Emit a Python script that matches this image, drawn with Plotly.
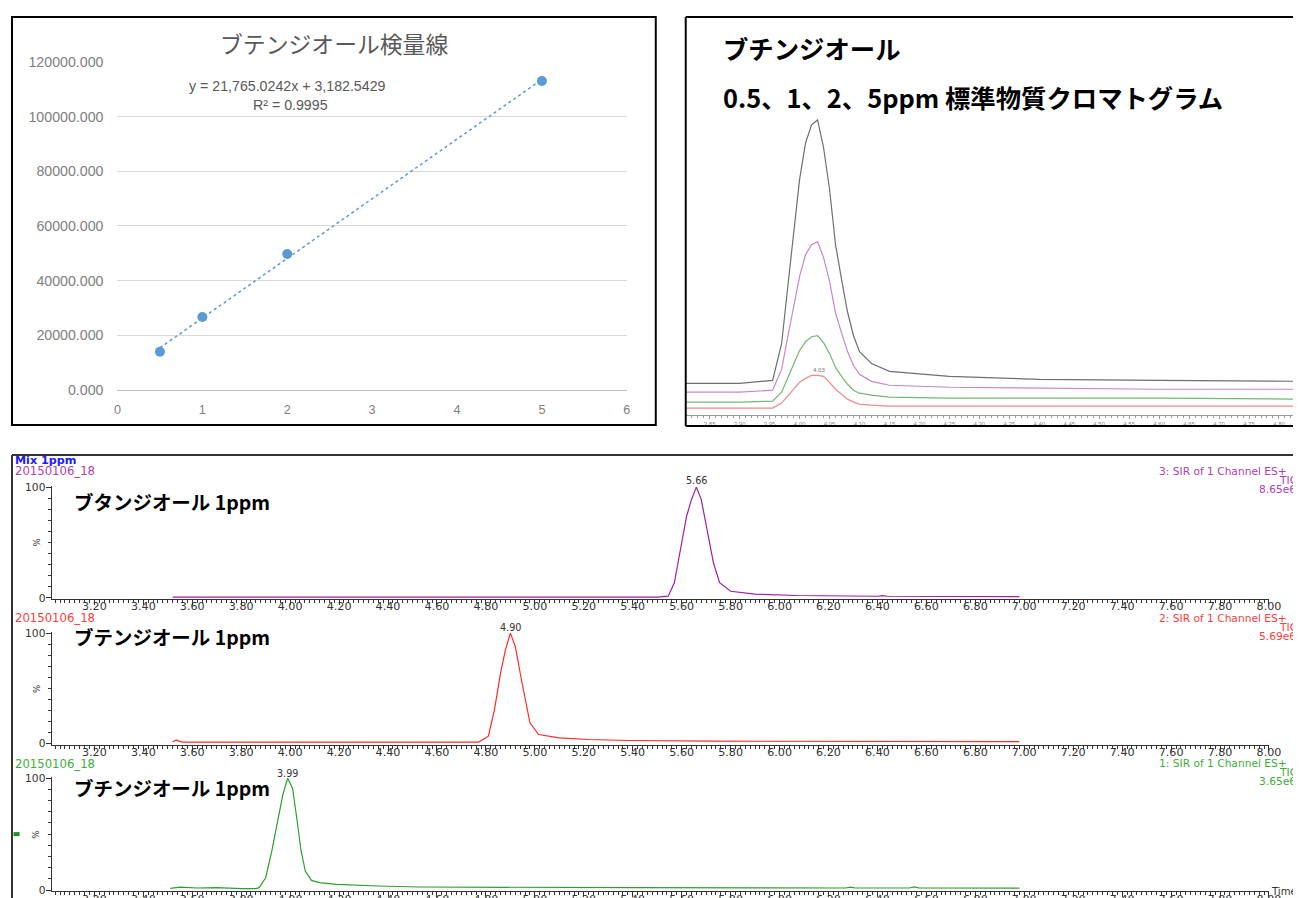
import numpy as np
import plotly.graph_objects as go

# Measured mapping between page pixels and the photographed picture:
#   picture = S * page + B   (page includes the 8px body margin)
SX, BX = 0.989, 3.5
SY, BY = 0.982, 8.3
OFF = 8
W, H = 1306, 905
FS = 2 / (SX + SY)  # font scale so text appears at the intended size


def px_to_fig_x(t):
    return ((t - BX) / SX - OFF) / W


def px_to_fig_y(t):
    return 1 - ((t - BY) / SY - OFF) / H


def fx(t):
    return min(1.0, max(0.0, px_to_fig_x(t)))


def fy(t):
    return min(1.0, max(0.0, px_to_fig_y(t)))


def fy_line(t):
    # keep frame lines fully inside the figure
    return min(1 - 1.0 / H, max(1.0 / H, px_to_fig_y(t)))


# ---------------- calibration curve data ----------------
cal_title = "ブテンジオール検量線"
cal_conc = [0.5, 1, 2, 5]
cal_area = [14000, 26700, 49700, 113000]
cal_eq_text = "y = 21,765.0242x + 3,182.5429"
cal_r2_text = "R² = 0.9995"
cal_xticks = [0, 1, 2, 3, 4, 5, 6]
cal_yticks = [0, 20000, 40000, 60000, 80000, 100000, 120000]

# ---------------- overlaid standards (0.5, 1, 2, 5 ppm) ----------------
ov_title1 = "ブチンジオール"
ov_title2 = "0.5、1、2、5ppm 標準物質クロマトグラム"
ov_time = [3.81, 3.90, 3.955, 3.97, 3.98, 3.99, 4.00, 4.01, 4.02, 4.03, 4.04, 4.05,
           4.06, 4.07, 4.08, 4.09, 4.10, 4.12, 4.15, 4.25, 4.40, 4.60, 4.835]
ov_5ppm = [32, 32, 35, 72, 128, 185, 238, 275, 293, 298, 270, 228,
           172, 137, 104, 80, 64, 52, 44, 39, 36, 35, 34]
ov_2ppm = [23, 23, 25, 46, 78, 110, 140, 162, 172, 175, 159, 135,
           103, 83, 64, 50, 41, 34, 30, 28, 27, 26, 26]
ov_1ppm = [13, 13, 14, 23, 37, 52, 65, 74, 79, 80, 73, 62,
           48, 39, 31, 25, 22, 20, 18, 17, 17, 17, 16]
ov_05ppm = [7, 7, 7, 12, 19, 26, 33, 37, 40, 40, 39, 33,
            26, 21, 16, 13, 11, 10, 9, 9, 9, 9, 9]
ov_peak_label = "4.03"

# ---------------- MassLynx chromatograms (Mix 1ppm) ----------------
ml_sample = "Mix 1ppm"
ml_file = "20150106_18"
a_name = "ブタンジオール 1ppm"
a_time = [3.52, 4.50, 5.50, 5.545, 5.57, 5.595, 5.62, 5.64, 5.66, 5.68, 5.705, 5.73,
          5.755, 5.80, 5.90, 6.07, 6.40, 6.42, 6.44, 6.98]
a_int = [0.7, 0.7, 0.7, 1.6, 13.7, 43.7, 73.7, 88.7, 100, 88.7, 58.6, 31.5,
         13.7, 6.0, 3.5, 2.2, 1.5, 2.0, 1.5, 1.2]
a_info = ["3: SIR of 1 Channel ES+", "TIC", "8.65e6"]
a_peak = "5.66"

b_name = "ブテンジオール 1ppm"
b_time = [3.52, 3.535, 3.56, 4.20, 4.77, 4.81, 4.835, 4.86, 4.88, 4.90, 4.92, 4.945,
          4.965, 4.98, 5.015, 5.10, 5.22, 5.39, 5.72, 6.98]
b_int = [1.5, 3.0, 1.2, 1.2, 1.3, 6.6, 30.7, 63.9, 85, 100, 88, 58,
         36.7, 18.7, 8.1, 5.1, 3.6, 2.7, 2.1, 1.6]
b_info = ["2: SIR of 1 Channel ES+", "TIC", "5.69e6"]
b_peak = "4.90"

c_name = "ブチンジオール 1ppm"
c_time = [3.51, 3.55, 3.62, 3.70, 3.80, 3.86, 3.873, 3.90, 3.925, 3.95, 3.97, 3.99,
          4.01, 4.027, 4.045, 4.062, 4.087, 4.12, 4.19, 4.36, 4.53, 5.40, 6.27, 6.29,
          6.31, 6.53, 6.55, 6.57, 6.98]
c_int = [1.5, 2.5, 1.8, 2.2, 1.3, 1.3, 2.1, 11, 34.7, 64.4, 85, 100,
         91, 64.4, 34.7, 17, 8.6, 6.6, 5.0, 3.6, 2.7, 2.1, 1.8, 2.6,
         1.8, 1.8, 2.8, 1.8, 1.7]
c_info = ["1: SIR of 1 Channel ES+", "TIC", "3.65e6"]
c_peak = "3.99"

ml_ticks_major = 0.2
ml_ticks_minor = 0.02

# ======================================================================
fig = go.Figure()

# ---- calibration ----
slope, icpt = np.polyfit(cal_conc, cal_area, 1)
tx = np.array([min(cal_conc), max(cal_conc)])
fig.add_trace(go.Scatter(x=tx, y=slope * tx + icpt, mode="lines",
                         line=dict(color="#5b9bd5", width=1.5, dash="dot"),
                         xaxis="x", yaxis="y", showlegend=False))
fig.add_trace(go.Scatter(x=cal_conc, y=cal_area, mode="markers",
                         marker=dict(color="#5b9bd5", size=10),
                         xaxis="x", yaxis="y", showlegend=False))

# ---- overlay ----
ov_series = [(ov_5ppm, "#6f6f6f"), (ov_2ppm, "#c586cc"),
             (ov_1ppm, "#73b873"), (ov_05ppm, "#f08a8a")]
for vals, col in ov_series:
    fig.add_trace(go.Scatter(x=ov_time, y=vals, mode="lines",
                             line=dict(color=col, width=1.2),
                             xaxis="x2", yaxis="y2", showlegend=False))

# ---- MassLynx ----
ml_sets = [
    (a_time, a_int, "#a01ea0", "x3", "y3"),
    (b_time, b_int, "#ff2a2a", "x4", "y4"),
    (c_time, c_int, "#2e9e2e", "x5", "y5"),
]
for t, v, col, xa, ya in ml_sets:
    fig.add_trace(go.Scatter(x=t, y=v, mode="lines",
                             line=dict(color=col, width=1.2),
                             xaxis=xa, yaxis=ya, showlegend=False))

ml_font = "DejaVu Sans"
tickfont_ml = dict(family=ml_font, size=11 * FS, color="#333333")


def ml_x(anchor):
    return dict(domain=[fx(51), fx(1270)], range=[3.025, 8.0], anchor=anchor,
                showline=True, linecolor="#333", linewidth=1,
                ticks="outside", ticklen=5, tickwidth=1, tickcolor="#333",
                tick0=3.2, dtick=ml_ticks_major, tickformat=".2f",
                minor=dict(ticks="outside", ticklen=3, tickcolor="#333",
                           tick0=3.2, dtick=ml_ticks_minor),
                ticklabelstandoff=-8,
                showgrid=False, zeroline=False, tickfont=tickfont_ml)


def ml_y(anchor, bottom_px, top_px):
    return dict(domain=[fy(bottom_px), fy(top_px)], range=[-1, 101], anchor=anchor,
                showline=True, linecolor="#333", linewidth=1,
                ticks="outside", ticklen=5, tickcolor="#333",
                tickmode="array", tickvals=[0, 100], ticktext=["0", "100"],
                minor=dict(ticks="outside", ticklen=3, tickcolor="#333",
                           tickmode="linear", tick0=0, dtick=10),
                ticklabelstandoff=-2,
                showgrid=False, zeroline=False,
                tickfont=dict(family=ml_font, size=10.5 * FS, color="#333"))


grey_font = dict(family="Liberation Sans", size=12.5 * FS, color="#808080")
grey_font_y = dict(family="Liberation Sans", size=14 * FS, color="#808080")

# overlay time axis: 600 picture px per minute, 4.00 min at x = 800
ov_left_px, ov_right_px = 686, 1301
ov_range = [4.00 + (ov_left_px - 800) / 600, 4.00 + (ov_right_px - 800) / 600]

fig.update_layout(
    width=W, height=H, autosize=False,
    margin=dict(l=0, r=0, t=0, b=0),
    paper_bgcolor="white", plot_bgcolor="rgba(0,0,0,0)",
    showlegend=False,
    xaxis=dict(domain=[fx(117), fx(627)], range=[0, 6], anchor="y",
               tickvals=cal_xticks, showgrid=False, zeroline=False,
               showline=True, linecolor="#bfbfbf", linewidth=1,
               ticks="", tickfont=grey_font, ticklabelstandoff=8),
    yaxis=dict(domain=[fy(390), fy(62)], range=[0, 120000], anchor="x",
               tickvals=cal_yticks, tickformat=".3f", showgrid=True,
               gridcolor="#d9d9d9", gridwidth=1, zeroline=False,
               showline=False, ticks="", tickfont=grey_font_y,
               ticklabelstandoff=13),
    xaxis2=dict(domain=[fx(ov_left_px), fx(ov_right_px)], range=ov_range, anchor="y2",
                showline=True, linecolor="#9a9a9a", linewidth=1,
                ticks="outside", ticklen=3, tickcolor="#9a9a9a",
                tick0=3.8, dtick=0.05, tickformat=".2f",
                minor=dict(ticks="outside", ticklen=2, tickcolor="#9a9a9a",
                           tick0=3.8, dtick=0.01),
                showgrid=False, zeroline=False,
                tickfont=dict(family="Liberation Sans", size=6, color="#8a8a8a")),
    yaxis2=dict(domain=[fy(415), fy(12)], range=[0, 403], anchor="x2",
                visible=False),
    xaxis3=ml_x("y3"), yaxis3=ml_y("x3", 599, 486),
    xaxis4=ml_x("y4"), yaxis4=ml_y("x4", 744.5, 632),
    xaxis5=ml_x("y5"), yaxis5=ml_y("x5", 891, 777),
)

ann = []


def add_text(text, x, y, size, color="black", family="Noto Sans CJK JP",
             xanchor="left", yanchor="middle", angle=0):
    ann.append(dict(text=text, x=px_to_fig_x(x), y=px_to_fig_y(y),
                    xref="paper", yref="paper",
                    showarrow=False, xanchor=xanchor, yanchor=yanchor,
                    textangle=angle,
                    font=dict(family=family, size=size * FS, color=color)))


# calibration texts
add_text(cal_title, 334, 44, 22.5, "#595959", xanchor="center")
add_text(cal_eq_text, 287, 86, 14, "#595959", family="Liberation Sans", xanchor="center")
add_text(cal_r2_text, 290, 105, 14, "#595959", family="Liberation Sans", xanchor="center")

# overlay texts
add_text("<b>" + ov_title1 + "</b>", 721, 48, 25)
add_text("<b>" + ov_title2 + "</b>", 721, 97, 25)
add_text(ov_peak_label, 819, 370, 6, "#777777", family="Liberation Sans", xanchor="center")

# MassLynx texts
add_text("<b>" + ml_sample + "</b>", 12, 461, 11, "#1a1aff", family=ml_font)
ml_labels = [
    (a_name, a_info, a_peak, "#b040b0", 471.5, 501.7, 5.66, 481, 0),
    (b_name, b_info, b_peak, "#ff3c3c", 618, 636.7, 4.90, 627, 146.5),
    (c_name, c_info, c_peak, "#3cae3c", 763.5, 787.7, 3.99, 773, 292),
]
for name, info, pk, col, fy_px, name_px, pkt, pk_px, off in ml_labels:
    add_text(ml_file, 12, fy_px, 11.5, col, family=ml_font)
    add_text("<b>" + name + "</b>", 71, name_px, 19.2)
    add_text(info[0], 1158, fy_px, 10.5, col, family=ml_font)
    add_text(info[1], 1278, fy_px + 9, 10.5, col, family=ml_font)
    add_text(info[2], 1258, fy_px + 18, 10.5, col, family=ml_font)
    add_text(pk, 94 + (pkt - 3.2) * 245, pk_px, 9.5, "#333333", family=ml_font,
             xanchor="center")
    add_text("%", 36, 543 + off, 8.5, "#333333", family=ml_font,
             xanchor="center", angle=-90)
add_text("Time", 1270, 891, 10, "#333333", family=ml_font)

fig.update_layout(annotations=ann)

shapes = [
    # calibration frame
    dict(type="rect", x0=fx(10), x1=fx(656), y0=fy_line(425), y1=fy_line(12),
         line=dict(color="black", width=2)),
    # overlay frame
    dict(type="line", x0=fx(686), x1=fx(686), y0=fy_line(426), y1=fy_line(12),
         line=dict(color="black", width=2)),
    dict(type="line", x0=fx(686), x1=fx(1301), y0=fy_line(12), y1=fy_line(12),
         line=dict(color="black", width=2)),
    dict(type="line", x0=fx(686), x1=fx(1301), y0=fy_line(426), y1=fy_line(426),
         line=dict(color="black", width=2)),
    # bottom frame
    dict(type="line", x0=fx(10), x1=fx(1301), y0=fy_line(455), y1=fy_line(455),
         line=dict(color="#333333", width=2)),
    dict(type="line", x0=fx(10), x1=fx(10), y0=fy(898), y1=fy_line(455),
         line=dict(color="#333333", width=2)),
    # small green marker
    dict(type="rect", x0=fx(13), x1=fx(19), y0=fy(836), y1=fy(832),
         fillcolor="#1e8c1e", line=dict(width=0)),
]
for s in shapes:
    s["xref"] = "paper"
    s["yref"] = "paper"
fig.update_layout(shapes=shapes)

fig.write_html("out.html")
